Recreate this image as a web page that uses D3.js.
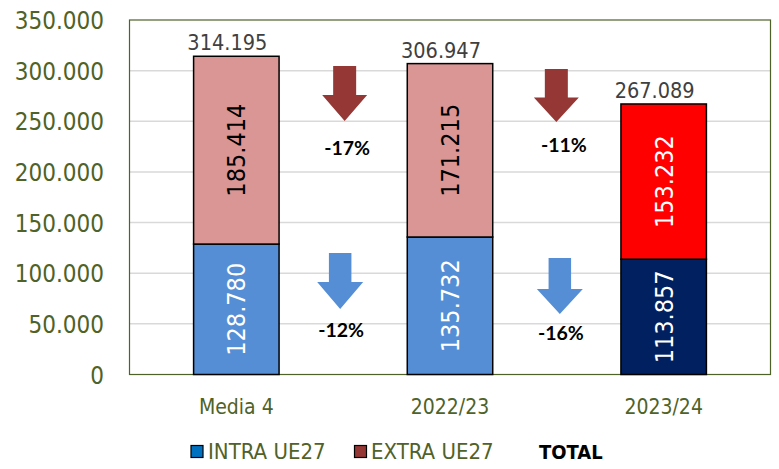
<!DOCTYPE html>
<html><head><meta charset="utf-8">
<script src="https://cdn.jsdelivr.net/npm/d3@7"></script>
<style>body{margin:0;background:#fff}svg{display:block}</style>
</head><body>
<svg id="c" width="779" height="469"></svg>
<script>
const categories = ["Media 4", "2022/23", "2023/24"];
const intra = [128780, 135732, 113857];
const extra = [185414, 171215, 153232];
const totals = [314195, 306947, 267089];
const yTicks = [0, 50000, 100000, 150000, 200000, 250000, 300000, 350000];
const changesExtra = ["-17%", "-11%"];
const changesIntra = ["-12%", "-16%"];
const legendLabels = ["INTRA UE27", "EXTRA UE27", "TOTAL"];

const intraColors = ["#558ED5", "#558ED5", "#002060"];
const extraColors = ["#D99694", "#D99694", "#FF0000"];
const olive = "#4F6228";
const FONT = "'DejaVu Sans Condensed', 'DejaVu Sans', sans-serif";

const loc = d3.formatLocale({decimal: ",", thousands: ".", grouping: [3], currency: ["", ""]});
const fmt = loc.format(",d");

const svg = d3.select("#c");
const L = 129.5, R = 770.5, T = 20, B = 374.5;

const x = d3.scaleBand().domain(categories).range([L, R]).paddingInner(0.6).paddingOuter(0.3);
const y = d3.scaleLinear().domain([0, 350000]).range([B, T]);

// gridlines
svg.append("g").selectAll("line").data(yTicks.filter(d => d > 0 && d < 350000)).join("line")
  .attr("x1", L).attr("x2", R).attr("y1", d => y(d)).attr("y2", d => y(d))
  .attr("stroke", "#D9D9D9").attr("stroke-width", 1.5);

// plot border
svg.append("rect").attr("x", L).attr("y", T).attr("width", R - L).attr("height", B - T)
  .attr("fill", "none").attr("stroke", olive).attr("stroke-width", 1.2);

// y axis
const yAxis = d3.axisLeft(y).tickValues(yTicks).tickSize(0).tickPadding(0).tickFormat(d => fmt(d));
const gy = svg.append("g").attr("transform", `translate(104,0)`).call(yAxis);
gy.select(".domain").remove();
gy.selectAll("text").attr("fill", olive).attr("font-family", FONT).attr("font-size", 24)
  .attr("dy", "0.36em");

// x axis
const xAxis = d3.axisBottom(x).tickSize(0).tickPadding(0);
const gx = svg.append("g").attr("transform", `translate(0,${B})`).call(xAxis);
gx.select(".domain").remove();
gx.selectAll("text").attr("fill", olive).attr("font-family", FONT).attr("font-size", 21)
  .attr("dy", null).attr("y", 39);

// bars
const bars = svg.append("g");
categories.forEach((c, i) => {
  const bx = x(c), bw = x.bandwidth();
  bars.append("rect").attr("x", bx).attr("width", bw)
    .attr("y", y(intra[i])).attr("height", y(0) - y(intra[i]))
    .attr("fill", intraColors[i]).attr("stroke", "#000").attr("stroke-width", 1.5);
  bars.append("rect").attr("x", bx).attr("width", bw)
    .attr("y", y(intra[i] + extra[i])).attr("height", y(intra[i]) - y(intra[i] + extra[i]))
    .attr("fill", extraColors[i]).attr("stroke", "#000").attr("stroke-width", 1.5);
  const cx = bx + bw / 2;
  const labels = [
    {v: intra[i], yc: (y(0) + y(intra[i])) / 2, col: "#fff"},
    {v: extra[i], yc: (y(intra[i]) + y(intra[i] + extra[i])) / 2, col: (i < 2 ? "#000" : "#fff")}
  ];
  labels.forEach(l => {
    bars.append("text").attr("transform", `translate(${cx},${l.yc}) rotate(-90)`)
      .attr("text-anchor", "middle").attr("dy", "0.36em")
      .attr("font-family", FONT).attr("font-size", 25).attr("fill", l.col).text(fmt(l.v));
  });
  bars.append("text").attr("x", cx - 9).attr("y", y(totals[i]) - 6)
    .attr("text-anchor", "middle").attr("font-family", FONT).attr("font-size", 21.5)
    .attr("fill", "#404040").text(fmt(totals[i]));
});

// arrows
function arrow(cx, y0, y1, y2, sw, hw, color) {
  const p = `M${cx - sw / 2},${y0} L${cx + sw / 2},${y0} L${cx + sw / 2},${y1} L${cx + hw / 2},${y1} L${cx},${y2} L${cx - hw / 2},${y1} L${cx - sw / 2},${y1} Z`;
  svg.append("path").attr("d", p).attr("fill", color);
}
const gaps = [0, 1].map(i => (x(categories[i]) + x.bandwidth() + x(categories[i + 1])) / 2);
const extraArrowY = [[66, 95, 121], [69, 97.5, 122]];
const intraArrowY = [[253, 282, 309], [258, 289, 314]];
gaps.forEach((g, i) => {
  arrow(g + 1.5 - i * 2, extraArrowY[i][0], extraArrowY[i][1], extraArrowY[i][2], 23, 45, "#953735");
  arrow(g - 3 + i * 6, intraArrowY[i][0], intraArrowY[i][1], intraArrowY[i][2], 22.5, 46, "#558ED5");
  svg.append("text").attr("x", g + 4 + i * 3).attr("y", i === 0 ? 155 : 152)
    .attr("text-anchor", "middle").attr("font-family", "Lato, 'Liberation Sans', sans-serif")
    .attr("font-weight", "bold").attr("font-size", 19.5).attr("fill", "#000").text(changesExtra[i]);
  svg.append("text").attr("x", g - 2 + i * 6).attr("y", i === 0 ? 337 : 340)
    .attr("text-anchor", "middle").attr("font-family", "Lato, 'Liberation Sans', sans-serif")
    .attr("font-weight", "bold").attr("font-size", 19.5).attr("fill", "#000").text(changesIntra[i]);
});

// legend
const lg = svg.append("g");
lg.append("rect").attr("x", 191).attr("y", 445.5).attr("width", 12).attr("height", 12)
  .attr("fill", "#0070C0").attr("stroke", "#000").attr("stroke-width", 1.2);
lg.append("text").attr("x", 208).attr("y", 459).attr("font-family", FONT).attr("font-size", 22)
  .attr("fill", olive).text(legendLabels[0]);
lg.append("rect").attr("x", 354.5).attr("y", 445.5).attr("width", 12).attr("height", 12)
  .attr("fill", "#953735").attr("stroke", "#000").attr("stroke-width", 1.2);
lg.append("text").attr("x", 371).attr("y", 459).attr("font-family", FONT).attr("font-size", 22)
  .attr("fill", olive).text(legendLabels[1]);
lg.append("text").attr("x", 539).attr("y", 459).attr("font-family", FONT).attr("font-size", 20)
  .attr("font-weight", "bold").attr("fill", "#000").text(legendLabels[2]);
</script>
</body></html>
